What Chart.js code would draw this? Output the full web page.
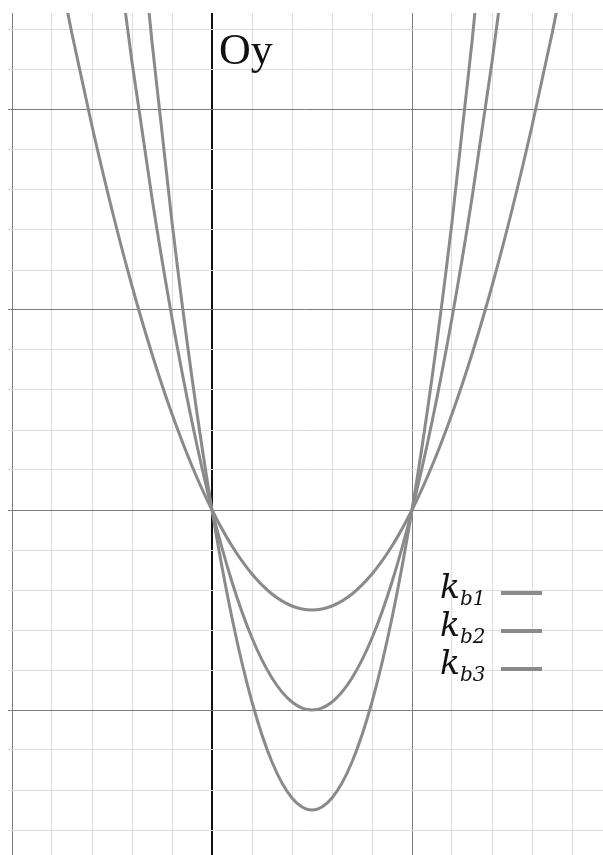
<!DOCTYPE html>
<html>
<head>
<meta charset="utf-8">
<script src="https://cdn.jsdelivr.net/npm/chart.js@4/dist/chart.umd.min.js"></script>
<style>
  body { margin: 0; background: #fff; }
  #wrap { position: relative; width: 603px; height: 855px; }
  .lbl { position: absolute; line-height: 1; white-space: nowrap; color: #111; }
  .oy { font-family: "Liberation Serif", serif; font-size: 44px; left: 219px; top: 28px; }
  .k { font-family: "DejaVu Serif", serif; font-style: italic; font-size: 33px; left: 440px; }
  .k sub { font-size: 20px; vertical-align: -7px; margin-left: 0px; }
  .swatch { position: absolute; left: 501px; width: 41px; height: 4px; background: #8a8a8a; }
</style>
</head>
<body>
<div id="wrap">
  <canvas id="chart"></canvas>
  <div class="lbl oy">Oy</div>
  <div class="lbl k" style="top:570px">k<sub>b1</sub></div>
  <div class="lbl k" style="top:608px">k<sub>b2</sub></div>
  <div class="lbl k" style="top:646px">k<sub>b3</sub></div>
  <div class="swatch" style="top:591px"></div>
  <div class="swatch" style="top:629px"></div>
  <div class="swatch" style="top:667px"></div>
</div>
<script>
// curve points (x in major-grid units, Oy at x = 0)
const xKb1 = [-0.8, -0.7, -0.6, -0.5, -0.4, -0.3, -0.2, -0.1, 0, 0.1, 0.2, 0.3, 0.4, 0.5, 0.6, 0.7, 0.8, 0.9, 1, 1.1, 1.2, 1.3, 1.4, 1.5, 1.6, 1.7, 1.8];
const yKb1 = [2.88, 2.38, 1.92, 1.5, 1.12, 0.78, 0.48, 0.22, 0, -0.18, -0.32, -0.42, -0.48, -0.5, -0.48, -0.42, -0.32, -0.18, 0, 0.22, 0.48, 0.78, 1.12, 1.5, 1.92, 2.38, 2.88];

const xKb2 = [-0.5, -0.4, -0.3, -0.2, -0.1, 0, 0.1, 0.2, 0.3, 0.4, 0.5, 0.6, 0.7, 0.8, 0.9, 1, 1.1, 1.2, 1.3, 1.4, 1.5];
const yKb2 = [3.0, 2.24, 1.56, 0.96, 0.44, 0, -0.36, -0.64, -0.84, -0.96, -1.0, -0.96, -0.84, -0.64, -0.36, 0, 0.44, 0.96, 1.56, 2.24, 3.0];

const xKb3 = [-0.4, -0.3, -0.2, -0.1, 0, 0.1, 0.2, 0.3, 0.4, 0.5, 0.6, 0.7, 0.8, 0.9, 1, 1.1, 1.2, 1.3, 1.4];
const yKb3 = [3.36, 2.34, 1.44, 0.66, 0, -0.54, -0.96, -1.26, -1.44, -1.5, -1.44, -1.26, -0.96, -0.54, 0, 0.66, 1.44, 2.34, 3.36];

// grid lines
const xTicks = [-1, -0.8, -0.6, -0.4, -0.2, 0, 0.2, 0.4, 0.6, 0.8, 1, 1.2, 1.4, 1.6, 1.8];
const yTicks = [-1.6, -1.4, -1.2, -1, -0.8, -0.6, -0.4, -0.2, 0, 0.2, 0.4, 0.6, 0.8, 1, 1.2, 1.4, 1.6, 1.8, 2, 2.2, 2.4];

const curveColor = '#8a8a8a';

function pts(xs, ys){ return xs.map((x,i)=>({x, y: ys[i]})); }
function isMajor(v){ return Math.abs(v - Math.round(v)) < 1e-6; }

function gridColor(axis){
  return ctx => {
    const v = ctx.tick ? ctx.tick.value : NaN;
    if(axis === 'x' && Math.abs(v) < 1e-6) return '#111';
    return isMajor(v) ? '#7c7c7c' : '#dedede';
  };
}
function gridWidth(axis){
  return ctx => {
    const v = ctx.tick ? ctx.tick.value : NaN;
    if(axis === 'x' && Math.abs(v) < 1e-6) return 2;
    return 1;
  };
}

const line = (label, data) => ({
  label, data, showLine: true, borderColor: curveColor, borderWidth: 3,
  pointRadius: 0, cubicInterpolationMode: 'monotone', fill: false
});

new Chart(document.getElementById('chart'), {
  type: 'scatter',
  data: {
    datasets: [
      line('kb1', pts(xKb1, yKb1)),
      line('kb2', pts(xKb2, yKb2)),
      line('kb3', pts(xKb3, yKb3))
    ]
  },
  options: {
    responsive: true, maintainAspectRatio: false, animation: false,
    layout: { padding: { left: 8, top: 13, right: 0, bottom: 0 } },
    plugins: { legend: { display: false }, tooltip: { enabled: false } },
    scales: {
      x: {
        type: 'linear', min: -1.02, max: 1.955,
        afterBuildTicks: s => { s.ticks = xTicks.map(v=>({value: v})); },
        ticks: { display: false },
        border: { display: false },
        grid: { drawTicks: false, color: gridColor('x'), lineWidth: gridWidth('x') }
      },
      y: {
        type: 'linear', min: -1.725, max: 2.485,
        afterBuildTicks: s => { s.ticks = yTicks.map(v=>({value: v})); },
        ticks: { display: false },
        border: { display: false },
        grid: { drawTicks: false, color: gridColor('y'), lineWidth: gridWidth('y') }
      }
    }
  }
});
</script>
</body>
</html>
